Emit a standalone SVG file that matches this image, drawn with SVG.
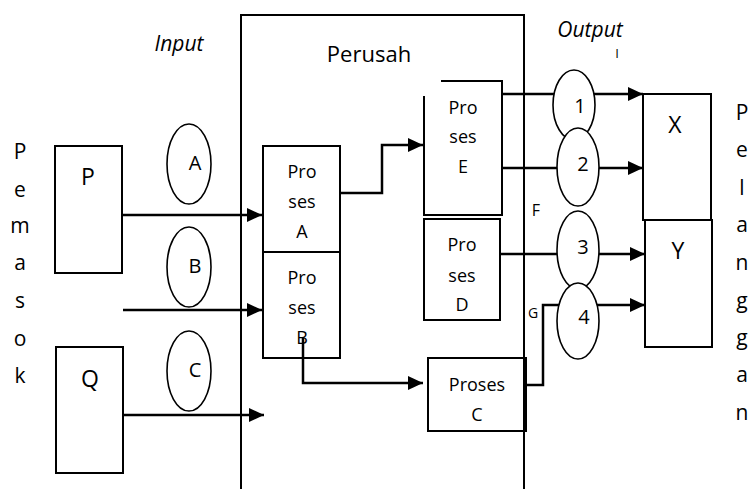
<svg xmlns="http://www.w3.org/2000/svg" width="754" height="489" viewBox="0 0 754 489">
<style>
text{font-family:"Open Sans","Noto Sans",sans-serif;fill:#000;text-anchor:middle}
.box{fill:none;stroke:#000;stroke-width:2}
.ell{fill:#fff;stroke:#000;stroke-width:1.6}
.con{fill:none;stroke:#000;stroke-width:2.5}
.arr{marker-end:url(#ah)}
.lbl{font-size:18px}
.big{font-size:23px}
.ital{font-style:italic;font-size:21px}
.vert{font-size:21px}
.el{font-size:20px}
</style>
<defs>
<marker id="ah" viewBox="0 0 15 14" refX="15" refY="7" markerWidth="15" markerHeight="14" markerUnits="userSpaceOnUse" orient="auto">
<path d="M0,0 L15,7 L0,14 z" fill="#000"/>
</marker>
</defs>
<rect width="754" height="489" fill="#fff"/>

<g id="labels">
<text class="ital" x="179" y="51">Input</text>
<text class="ital" x="590" y="37">Output</text>
<text style="font-size:13px" x="617" y="58">I</text>
<text class="vert" x="20" y="159">P</text>
<text class="vert" x="20" y="197">e</text>
<text class="vert" x="20" y="233">m</text>
<text class="vert" x="20" y="270">a</text>
<text class="vert" x="20" y="308">s</text>
<text class="vert" x="20" y="346">o</text>
<text class="vert" x="20" y="383">k</text>
<text class="vert" x="742" y="120">P</text>
<text class="vert" x="742" y="157">e</text>
<text class="vert" x="742" y="195">l</text>
<text class="vert" x="742" y="232">a</text>
<text class="vert" x="742" y="270">n</text>
<text class="vert" x="742" y="308">g</text>
<text class="vert" x="742" y="345">g</text>
<text class="vert" x="742" y="382">a</text>
<text class="vert" x="742" y="420">n</text>
<text style="font-size:16px" x="536" y="216">F</text>
<text style="font-size:14px" x="533" y="318">G</text>
</g>

<g id="perusahaan">
<path class="box" d="M241,489 V15 H524 V489"/>
<text style="font-size:22px" x="369" y="62">Perusah</text>
</g>

<g id="connectors">
<path class="con arr" d="M122,215 H262"/>
<path class="con arr" d="M123,310 H262"/>
<path class="con arr" d="M123,415 H264"/>
<path class="con arr" d="M340,193 H382 V145 H423"/>
<path class="con arr" d="M303,337 V383 H423"/>
<path class="con arr" d="M502,94 H643"/>
<path class="con arr" d="M502,168 H643"/>
<path class="con arr" d="M500,254 H645"/>
<path class="con arr" d="M526,385 H543 V305 H645"/>
</g>

<g id="node-P">
<rect class="box" x="55" y="146" width="67" height="127"/>
<text class="big" x="88" y="185">P</text>
</g>
<g id="node-Q">
<rect class="box" x="56" y="347" width="67" height="126"/>
<text class="big" x="90" y="387">Q</text>
</g>

<g id="flow-A"><ellipse class="ell" cx="189" cy="164" rx="22" ry="40"/><text class="el" x="195" y="170">A</text></g>
<g id="flow-B"><ellipse class="ell" cx="189" cy="267" rx="22" ry="40"/><text class="el" x="195" y="273">B</text></g>
<g id="flow-C"><ellipse class="ell" cx="189" cy="371" rx="22" ry="40"/><text class="el" x="195" y="377">C</text></g>

<g id="proses-A">
<rect class="box" x="263" y="146" width="77" height="106"/>
<text class="lbl" x="302" y="178">Pro</text>
<text class="lbl" x="302" y="208">ses</text>
<text class="lbl" x="302" y="238">A</text>
</g>
<g id="proses-B">
<rect class="box" x="263" y="252" width="77" height="106"/>
<text class="lbl" x="302" y="284">Pro</text>
<text class="lbl" x="302" y="314">ses</text>
<text class="lbl" x="302" y="344">B</text>
</g>
<g id="proses-E">
<path class="box" d="M441,81 H502 V215 H424 V96"/>
<text class="lbl" x="463" y="114">Pro</text>
<text class="lbl" x="463" y="143">ses</text>
<text class="lbl" x="463" y="173">E</text>
</g>
<g id="proses-D">
<rect class="box" x="424" y="219" width="76" height="101"/>
<text class="lbl" x="462" y="251">Pro</text>
<text class="lbl" x="462" y="282">ses</text>
<text class="lbl" x="462" y="311">D</text>
</g>
<g id="proses-C">
<rect class="box" x="428" y="358" width="98" height="73"/>
<text class="lbl" x="477" y="391">Proses</text>
<text class="lbl" x="477" y="421">C</text>
</g>

<g id="flow-1"><ellipse class="ell" cx="574" cy="105" rx="21" ry="35"/><text class="el" x="580" y="113">1</text></g>
<g id="flow-2"><ellipse class="ell" cx="578" cy="167" rx="21" ry="39"/><text class="el" x="583" y="171">2</text></g>
<g id="flow-3"><ellipse class="ell" cx="578" cy="250" rx="21" ry="39"/><text class="el" x="583" y="254">3</text></g>
<g id="flow-4"><ellipse class="ell" cx="578" cy="321" rx="21" ry="38"/><text class="el" x="584" y="324">4</text></g>

<g id="node-X">
<rect class="box" x="643" y="94" width="68" height="126"/>
<text class="big" x="675" y="133">X</text>
</g>
<g id="node-Y">
<rect class="box" x="645" y="220" width="67" height="127"/>
<text class="big" x="678" y="259">Y</text>
</g>
</svg>
